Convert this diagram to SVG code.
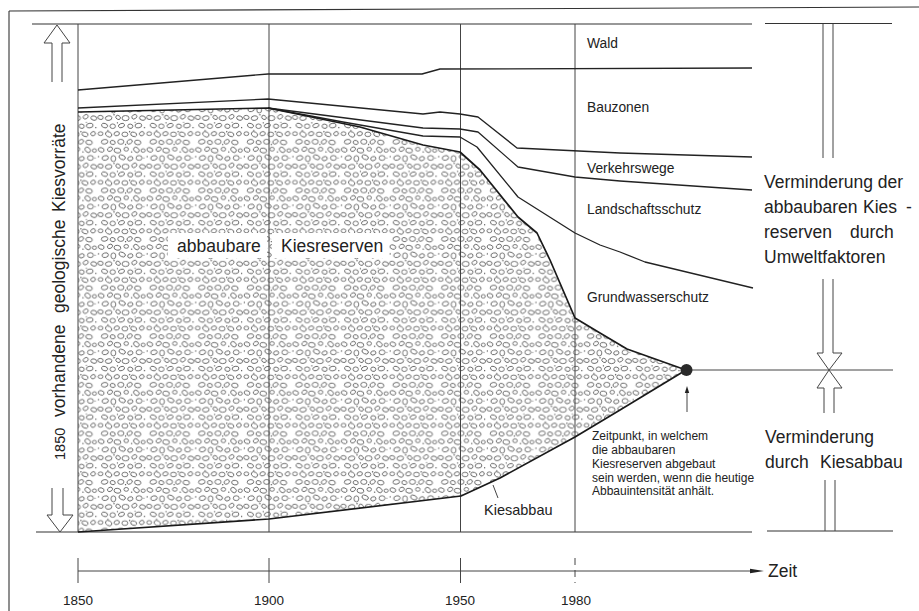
<svg xmlns="http://www.w3.org/2000/svg" width="919" height="611" viewBox="0 0 919 611">
<defs>
<style>
.ln{fill:none;stroke:#222;stroke-width:1.3;stroke-linejoin:round}
.th{fill:none;stroke:#1a1a1a;stroke-width:1.7;stroke-linejoin:round}
.fr{fill:none;stroke:#333;stroke-width:1.1}
.vt{fill:none;stroke:#444;stroke-width:1}
.ar{fill:#fff;stroke:#444;stroke-width:1}
.t{font-family:"Liberation Sans",Arial,sans-serif;fill:#222}
.s{font-size:13.8px}
.b{font-size:17.5px}
.n{font-size:12px}
.y{font-size:13.5px}
.ge{fill:none;stroke:#5a5a5a;stroke-width:0.62}
.gd{fill:#444}
</style>
<pattern id="gravel" patternUnits="userSpaceOnUse" width="36" height="36" patternTransform="scale(1.35)">
<g class="ge">
<ellipse cx="3" cy="3" rx="2.2" ry="1.6" transform="rotate(20 3 3)"/>
<ellipse cx="9.5" cy="2.5" rx="2" ry="1.5" transform="rotate(-30 9.5 2.5)"/>
<ellipse cx="15" cy="3.5" rx="2.5" ry="1.8" transform="rotate(10 15 3.5)"/>
<ellipse cx="21.5" cy="2.5" rx="1.7" ry="1.4"/>
<ellipse cx="29" cy="3" rx="2.3" ry="1.7" transform="rotate(40 29 3)"/>
<ellipse cx="34" cy="3.5" rx="1.5" ry="1.3"/>
<ellipse cx="6" cy="9" rx="2.4" ry="1.7" transform="rotate(-15 6 9)"/>
<ellipse cx="12" cy="9.5" rx="1.8" ry="2.2"/>
<ellipse cx="18.5" cy="8.5" rx="2.5" ry="1.6" transform="rotate(25 18.5 8.5)"/>
<ellipse cx="24.5" cy="9.5" rx="2" ry="1.5" transform="rotate(-20 24.5 9.5)"/>
<ellipse cx="31" cy="9" rx="2.2" ry="1.8"/>
<ellipse cx="2.5" cy="15" rx="2" ry="1.5" transform="rotate(10 2.5 15)"/>
<ellipse cx="8.5" cy="15.5" rx="2.4" ry="1.7" transform="rotate(-10 8.5 15.5)"/>
<ellipse cx="15.5" cy="15" rx="1.8" ry="1.4" transform="rotate(30 15.5 15)"/>
<ellipse cx="21" cy="15.5" rx="2.6" ry="1.9"/>
<ellipse cx="27.5" cy="14.5" rx="2" ry="1.5" transform="rotate(-35 27.5 14.5)"/>
<ellipse cx="33.5" cy="15.5" rx="2.2" ry="1.6" transform="rotate(15 33.5 15.5)"/>
<ellipse cx="5.5" cy="21" rx="2.3" ry="1.6" transform="rotate(20 5.5 21)"/>
<ellipse cx="11.5" cy="21.5" rx="2" ry="1.7"/>
<ellipse cx="18" cy="21" rx="2.3" ry="1.5" transform="rotate(-20 18 21)"/>
<ellipse cx="24.5" cy="21.5" rx="1.9" ry="1.6" transform="rotate(10 24.5 21.5)"/>
<ellipse cx="30.5" cy="21" rx="2.5" ry="1.7" transform="rotate(-10 30.5 21)"/>
<ellipse cx="2.5" cy="27" rx="1.8" ry="1.4"/>
<ellipse cx="8.5" cy="27.5" rx="2.5" ry="1.8" transform="rotate(30 8.5 27.5)"/>
<ellipse cx="14.5" cy="27" rx="2" ry="1.5" transform="rotate(-15 14.5 27)"/>
<ellipse cx="20.5" cy="27.5" rx="2.2" ry="1.7"/>
<ellipse cx="27" cy="27.5" rx="2.3" ry="1.6" transform="rotate(20 27 27.5)"/>
<ellipse cx="33" cy="27" rx="1.8" ry="1.5" transform="rotate(-25 33 27)"/>
<ellipse cx="5.5" cy="33" rx="2.4" ry="1.7" transform="rotate(-10 5.5 33)"/>
<ellipse cx="11.5" cy="33.5" rx="1.9" ry="1.5" transform="rotate(15 11.5 33.5)"/>
<ellipse cx="17.5" cy="33" rx="2.3" ry="1.8"/>
<ellipse cx="24" cy="33" rx="2.1" ry="1.5" transform="rotate(-30 24 33)"/>
<ellipse cx="30" cy="33.5" rx="2.4" ry="1.7" transform="rotate(10 30 33.5)"/>
</g>
<g class="gd">
<circle cx="25.5" cy="4.5" r="0.5"/><circle cx="1" cy="8" r="0.5"/><circle cx="12.5" cy="13" r="0.5"/>
<circle cx="15" cy="19" r="0.5"/><circle cx="35" cy="22.5" r="0.5"/><circle cx="24" cy="25.5" r="0.5"/>
<circle cx="21" cy="35" r="0.5"/><circle cx="34.5" cy="9" r="0.4"/><circle cx="8" cy="24.5" r="0.4"/>
<circle cx="28" cy="18.5" r="0.4"/>
</g>
</pattern>
</defs>
<rect width="919" height="611" fill="#fff"/>

<g id="frame">
<line class="fr" x1="9" y1="11" x2="919" y2="7"/>
<line class="fr" x1="9" y1="11" x2="9" y2="611"/>
</g>

<g id="gravel-area">
<polygon fill="url(#gravel)" stroke="none" points="78,112 268,108 360,127 423,145 460,152 480,170 518,217 537,233 550,260 575,318 600,333 627,349 686,370 620,410 575,437 500,478 461,496 269,519 78,532"/>
<rect x="168" y="233" width="99" height="25" fill="#fff"/>
<rect x="272" y="233" width="117" height="25" fill="#fff"/>
</g>

<g id="grid">
<line class="fr" x1="32" y1="24" x2="752" y2="24"/>
<line class="fr" x1="765" y1="23.5" x2="892" y2="23.5"/>
<line class="fr" x1="36" y1="532" x2="752" y2="532"/>
<line class="fr" x1="767" y1="531" x2="893" y2="531"/>
<line class="vt" x1="78" y1="24" x2="78" y2="532"/>
<line class="vt" x1="269" y1="24" x2="269" y2="532"/>
<line class="vt" x1="460.5" y1="24" x2="460.5" y2="532"/>
<line class="vt" x1="575" y1="24" x2="575" y2="532"/>
<line class="vt" x1="686" y1="370" x2="893" y2="370"/>
</g>

<g id="connectors">
<polyline class="ln" points="78,90 268,74 422,74 440,69 752,68"/>
<polyline class="ln" points="78,108 268,99 423,114 440,112 460,114 478,117 517,148 620,153 752,157"/>
<polyline class="ln" points="268,108 423,128 460,129 478,132 518,167 575,177 620,181 752,190"/>
<polyline class="ln" points="268,108 343,122 423,136 460,137 477,147 518,197 575,233 600,245 620,252 645,262 753,288"/>
<polyline class="th" points="78,112 268,108 360,127 423,145 460,152 480,170 518,217 537,233 550,260 575,318 600,333 627,349 686,370"/>
<polyline class="th" points="78,532 269,519 461,496 500,478 575,437 620,410 686,370"/>
<line class="vt" x1="493" y1="485" x2="498" y2="498"/>
<circle cx="686.5" cy="370" r="6" fill="#2a2a2a"/>
<line class="vt" x1="687" y1="412" x2="687" y2="392"/>
<polygon points="687,386 684.8,393 689.2,393" fill="#222"/>
</g>

<g id="left-arrows">
<path class="ar" d="M52,82 V43 H44 L57,25 L70,43 H62 V82"/>
<path class="ar" d="M52,488 V515 H47 L60,532 L73,515 H63 V488"/>
</g>

<g id="right-arrows">
<line class="vt" x1="823" y1="24" x2="823" y2="158"/>
<line class="vt" x1="833" y1="24" x2="833" y2="158"/>
<path class="ar" d="M823,279 V353 H817 L829,370 L842,353 H833 V279"/>
<path class="ar" d="M824,413 V388 H817 L829,370 L842,388 H834 V413"/>
<line class="vt" x1="825" y1="480" x2="825" y2="531"/>
<line class="vt" x1="835" y1="480" x2="835" y2="531"/>
</g>

<g id="time-axis">
<line class="vt" x1="78" y1="571" x2="752" y2="571"/>
<polygon points="764,571 750,568.8 750,573.2" fill="#222"/>
<line class="vt" x1="78" y1="558" x2="78" y2="583"/>
<line class="vt" x1="269" y1="558" x2="269" y2="583"/>
<line class="vt" x1="460.5" y1="558" x2="460.5" y2="583"/>
<line class="vt" x1="575" y1="558" x2="575" y2="583" stroke-dasharray="7,5"/>
<text class="t b" x="768" y="577">Zeit</text>
<text class="t y" x="78" y="605" text-anchor="middle">1850</text>
<text class="t y" x="269" y="605" text-anchor="middle">1900</text>
<text class="t y" x="460" y="605" text-anchor="middle">1950</text>
<text class="t y" x="576" y="605" text-anchor="middle">1980</text>
</g>

<g id="labels">
<text class="t b" transform="rotate(-90)" y="65"><tspan x="-460" style="font-size:14.5px">1850</tspan><tspan x="-417">vorhandene</tspan><tspan x="-313">geologische</tspan><tspan x="-212">Kiesvorräte</tspan></text>
<text class="t b" x="177" y="252">abbaubare</text>
<text class="t b" x="281" y="252">Kiesreserven</text>
<text class="t s" x="587" y="48">Wald</text>
<text class="t s" x="587" y="112">Bauzonen</text>
<text class="t s" x="587" y="173">Verkehrswege</text>
<text class="t s" x="587" y="214">Landschaftsschutz</text>
<text class="t s" x="587" y="302">Grundwasserschutz</text>
<text class="t" x="484" y="515" style="font-size:14.5px">Kiesabbau</text>
<text class="t n"><tspan x="592" y="440">Zeitpunkt, in welchem</tspan><tspan x="592" y="454">die abbaubaren</tspan><tspan x="592" y="468">Kiesreserven abgebaut</tspan><tspan x="592" y="482">sein werden, wenn die heutige</tspan><tspan x="592" y="495">Abbauintensität anhält.</tspan></text>
<text class="t b"><tspan x="764" y="188">Verminderung der</tspan><tspan x="764" y="213">abbaubaren</tspan><tspan x="863" y="213">Kies</tspan><tspan x="906" y="213">-</tspan><tspan x="764" y="238">reserven</tspan><tspan x="850" y="238">durch</tspan><tspan x="764" y="263">Umweltfaktoren</tspan></text>
<text class="t b"><tspan x="765" y="443">Verminderung</tspan><tspan x="765" y="468">durch</tspan><tspan x="820" y="468">Kiesabbau</tspan></text>
</g>
</svg>
